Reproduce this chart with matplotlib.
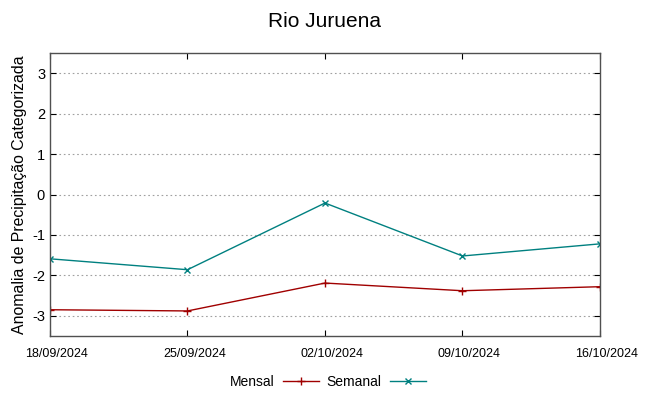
import matplotlib
matplotlib.use("Agg")
import matplotlib.pyplot as plt
from matplotlib.transforms import ScaledTranslation

datas = ["18/09/2024", "25/09/2024", "02/10/2024", "09/10/2024", "16/10/2024"]
mensal = [-2.85, -2.88, -2.19, -2.38, -2.28]
semanal = [-1.59, -1.86, -0.21, -1.52, -1.22]
yticks = [-3, -2, -1, 0, 1, 2, 3]

plt.rcParams["font.family"] = ["Liberation Sans", "DejaVu Sans"]
plt.rcParams["axes.unicode_minus"] = False

fig = plt.figure(figsize=(6.49, 3.96), dpi=100)
ax = fig.add_axes([0.077, 0.1515, 0.8475, 0.7145])

x = list(range(len(datas)))
ax.plot(x, mensal, color="#a00000", lw=1.0, marker="+", ms=6, mew=1.0, label="Mensal")
ax.plot(x, semanal, color="#008080", lw=1.0, marker="x", ms=4.5, mew=1.0, label="Semanal")

ax.set_xlim(0, len(datas) - 1)
ax.set_ylim(-3.5, 3.5)
ax.set_xticks(x)
ax.set_xticklabels([])
# date labels sit a little right of their ticks in the reference
shift = ScaledTranslation(7 / 100, -12 / 100, fig.dpi_scale_trans)
trans = ax.get_xaxis_transform() + shift
for xi, d in zip(x, datas):
    ax.text(xi, 0, d, transform=trans, ha="center", va="top", fontsize=9)

ax.set_yticks(yticks)
ax.tick_params(axis="y", labelsize=10.5, direction="in", length=4, right=True)
ax.tick_params(axis="x", direction="in", length=4, top=True)
ax.yaxis.grid(True, linestyle=(0, (1.5, 2.5)), color="#a0a0a0", lw=0.8)
for s in ax.spines.values():
    s.set_color("#505050")
    s.set_linewidth(1.0)

ax.set_ylabel("Anomalia de Precipitação Categorizada", fontsize=11.4, labelpad=4)
fig.text(0.5, 0.945, "Rio Juruena", ha="center", va="center", fontsize=15)

fig.legend(loc="center", bbox_to_anchor=(0.505, 0.035), ncol=2, frameon=False,
           markerfirst=False, fontsize=10, handlelength=2.6, columnspacing=0.55,
           handletextpad=0.6)

fig.savefig("out.png", dpi=100)
